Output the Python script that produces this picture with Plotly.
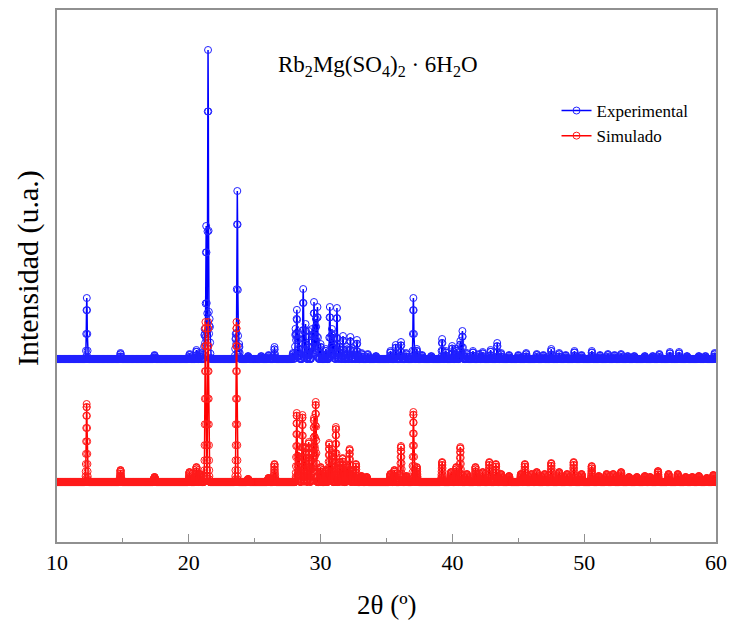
"""XRD pattern: experimental vs simulated Rb2Mg(SO4)2·6H2O."""

import numpy as np
import plotly.graph_objects as go

# ── Data (peak positions in 2θ, heights in arbitrary units) ─────────────────
EXP_POS = [12.26, 14.82, 17.40, 20.06, 20.58, 20.86, 21.20, 21.32, 21.46, 21.58,
           23.56, 23.68, 23.82, 24.50, 25.50, 26.06, 26.50, 27.90, 28.10, 28.20,
           28.36, 28.68, 28.86, 29.10, 29.36, 29.50, 29.64, 29.76, 30.00, 30.40,
           30.70, 30.86, 31.00, 31.24, 31.46, 31.70, 32.00, 32.26, 32.50, 32.76,
           33.10, 33.58, 34.20, 35.30, 35.70, 36.10, 36.50, 37.04, 37.30, 37.70,
           38.40, 39.22, 39.50, 39.98, 40.30, 40.60, 40.76, 41.10, 41.56, 42.00,
           42.30, 42.90, 43.40, 43.70, 44.30, 45.00, 45.60, 46.40, 46.90, 47.50,
           48.10, 48.60, 49.26, 49.80, 50.58, 51.20, 51.80, 52.30, 52.80, 53.30,
           53.80, 54.60, 55.20, 55.70, 56.50, 57.20, 57.80, 58.70, 59.20, 59.90]
EXP_INT = [61, 6, 4, 5, 9, 6, 30, 133, 309, 40,
           25, 168, 15, 3, 3, 4, 12, 6, 30, 49,
           25, 70, 35, 28, 30, 57, 40, 52, 15, 10,
           52, 30, 25, 51, 15, 23, 12, 22, 10, 19,
           6, 5, 3, 8, 14, 17, 6, 61, 10, 4,
           3, 20, 8, 13, 10, 18, 28, 6, 8, 5,
           7, 9, 16, 6, 4, 4, 6, 5, 4, 10,
           6, 4, 8, 4, 8, 4, 5, 4, 5, 3,
           3, 3, 3, 5, 7, 7, 3, 3, 3, 6]

SIM_POS = [12.25, 14.82, 17.40, 20.05, 20.58, 20.85, 21.26, 21.47, 23.62, 24.50,
           26.05, 26.50, 28.19, 28.35, 28.62, 28.85, 29.10, 29.35, 29.50, 29.63,
           30.00, 30.40, 30.65, 30.85, 31.16, 31.45, 31.67, 32.00, 32.20, 32.45,
           32.68, 33.10, 33.50, 35.30, 35.60, 36.10, 36.50, 37.04, 37.30, 39.22,
           39.90, 40.30, 40.60, 41.10, 41.75, 42.30, 42.80, 43.30, 43.70, 44.30,
           45.20, 45.50, 46.00, 46.40, 47.00, 47.50, 48.10, 48.70, 49.20, 49.80,
           50.57, 51.10, 51.70, 52.20, 52.80, 53.40, 54.00, 54.60, 55.00, 55.60,
           56.40, 57.10, 57.70, 58.20, 58.70, 59.30, 59.80]
SIM_INT = [78, 12, 5, 10, 15, 8, 160, 160, 160, 3,
           4, 18, 69, 30, 67, 35, 40, 35, 64, 80,
           15, 12, 39, 30, 55, 20, 24, 15, 33, 12,
           18, 6, 5, 8, 12, 36, 6, 70, 15, 20,
           10, 15, 35, 8, 15, 10, 20, 18, 8, 6,
           8, 18, 8, 10, 8, 19, 10, 8, 20, 8,
           16, 6, 8, 8, 10, 5, 5, 6, 5, 11,
           8, 8, 5, 5, 6, 4, 7]

EXP_OFFSET = 183
SIM_OFFSET = 60

exp_x = np.round(np.arange(10, 60.0001, 0.02), 2)   # measured step
sim_x = np.round(np.arange(10, 60.0001, 0.01), 2)   # simulated step


def pattern(x, pos, inten, width, offset):
    y = np.full_like(x, float(offset))
    for p, h in zip(pos, inten):
        y += h * np.exp(-0.5 * ((x - p) / width) ** 2)
    return y


exp_y = pattern(exp_x, EXP_POS, EXP_INT, 0.03, EXP_OFFSET)
sim_y = pattern(sim_x, SIM_POS, SIM_INT, 0.035, SIM_OFFSET)

FONT = 'Liberation Serif, Times New Roman, serif'
AXIS_COLOR = '#909090'

fig = go.Figure()
fig.add_trace(go.Scatter(
    x=exp_x, y=exp_y, mode='lines+markers', name='Experimental',
    line=dict(color='#0000ff', width=1.5),
    marker=dict(symbol='circle-open', size=7, color='#2020ff', line=dict(width=1)),
))
fig.add_trace(go.Scatter(
    x=sim_x, y=sim_y, mode='lines+markers', name='Simulado',
    line=dict(color='#ff0000', width=1.5),
    marker=dict(symbol='circle-open', size=7, color='#ff1a1a', line=dict(width=1)),
))

fig.add_annotation(
    text='Rb<sub>2</sub>Mg(SO<sub>4</sub>)<sub>2</sub> · 6H<sub>2</sub>O',
    xref='paper', yref='paper', x=0.487, y=0.925, showarrow=False,
    font=dict(family=FONT, size=23, color='black'),
)
fig.add_annotation(
    text='Intensidad (u.a.)', textangle=-90,
    xref='paper', yref='paper', x=-0.044, y=0.515, showarrow=False,
    xanchor='center', yanchor='middle',
    font=dict(family=FONT, size=30, color='black'),
)
fig.add_annotation(
    text='2θ (º)',
    xref='paper', yref='paper', x=0.5, y=-0.119, showarrow=False,
    xanchor='center', yanchor='middle',
    font=dict(family=FONT, size=27, color='black'),
)

fig.update_xaxes(
    range=[10, 60], tickmode='linear', tick0=10, dtick=10,
    ticks='inside', ticklen=8, tickcolor=AXIS_COLOR, tickwidth=1,
    minor=dict(ticks='inside', ticklen=4, dtick=5, tickcolor=AXIS_COLOR),
    showline=True, linecolor=AXIS_COLOR, linewidth=1.5, mirror=True,
    showgrid=False, zeroline=False,
    tickfont=dict(family=FONT, size=22, color='black'),
)
fig.update_yaxes(
    range=[0, 532], showticklabels=False, ticks='',
    showline=True, linecolor=AXIS_COLOR, linewidth=1.5, mirror=True,
    showgrid=False, zeroline=False,
)
fig.update_layout(
    width=729, height=621,
    margin=dict(l=57, r=13, t=10, b=79, autoexpand=False),
    paper_bgcolor='white', plot_bgcolor='white',
    showlegend=True,
    legend=dict(x=0.758, y=0.844, xanchor='left', yanchor='top',
                bgcolor='rgba(0,0,0,0)', borderwidth=0,
                font=dict(family=FONT, size=17, color='black'),
                itemwidth=30, tracegroupgap=0),
)

fig.write_html('out.html', config={'displayModeBar': False},
               post_script="document.body.style.margin='0';"
                           "document.body.style.overflow='hidden';")
